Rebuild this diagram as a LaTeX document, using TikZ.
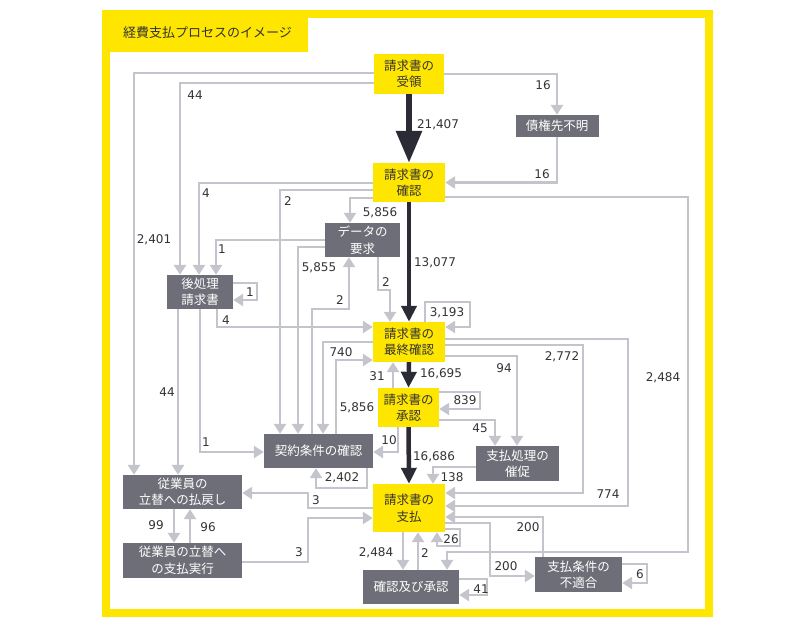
\documentclass[tikz,border=0pt]{standalone}
\usepackage{fontspec}
\setmainfont{DejaVu Sans}
\newfontfamily\jpfont{Noto Sans CJK JP}
\usetikzlibrary{arrows.meta}
\definecolor{ylw}{RGB}{255,230,0}
\definecolor{gfill}{RGB}{110,110,120}
\definecolor{gline}{RGB}{196,196,204}
\definecolor{dline}{RGB}{43,43,53}
\definecolor{txt}{RGB}{51,51,51}
\begin{document}
\begin{tikzpicture}[x=1pt,y=-1pt,
  ybox/.style={fill=ylw,text=txt,inner sep=0pt,align=center,font=\jpfont\fontsize{12.5}{16.5}\selectfont},
  gbox/.style={fill=gfill,text=white,inner sep=0pt,align=center,font=\jpfont\fontsize{12.5}{16.5}\selectfont},
  ga/.style={draw=gline,line width=2.5pt,-{Triangle[width=12pt,length=10pt]}},
  da/.style={draw=dline,line width=4.5pt,-{Triangle[width=15pt,length=16pt]}},
  dab/.style={draw=dline,line width=6pt,-{Triangle[width=25pt,length=32pt]}},
  lbl/.style={text=txt,font=\fontsize{12}{14}\selectfont,inner sep=0pt}]
\useasboundingbox (0,0) rectangle (810,627);
% frame and title
\draw[ylw,line width=8pt] (106,14) rectangle (709,613);
\fill[ylw] (102,10) rectangle (308,52);
\node[anchor=west,text=txt,inner sep=0pt,font=\jpfont\fontsize{13}{15}\selectfont] (title) at (123,33) {経費支払プロセスのイメージ};
% nodes
\node[ybox,minimum width=70pt,minimum height=40pt] (A) at (409,74) {請求書の\\受領};
\node[ybox,minimum width=72pt,minimum height=39pt] (B) at (409,182.5) {請求書の\\確認};
\node[gbox,minimum width=83pt,minimum height=22pt] (C) at (557,126) {債権先不明};
\node[gbox,minimum width=75pt,minimum height=34pt] (D) at (362.5,240) {データの\\要求};
\node[gbox,minimum width=66pt,minimum height=34pt] (E) at (200,292) {後処理\\請求書};
\node[ybox,minimum width=72pt,minimum height=40pt] (F) at (409,342) {請求書の\\最終確認};
\node[ybox,minimum width=61pt,minimum height=39pt] (G) at (408.5,407.5) {請求書の\\承認};
\node[gbox,minimum width=109pt,minimum height=34pt] (H) at (318.5,451) {契約条件の確認};
\node[gbox,minimum width=83pt,minimum height=35pt] (I) at (517.5,463.5) {支払処理の\\催促};
\node[ybox,minimum width=72pt,minimum height=48pt] (J) at (409,508) {請求書の\\支払};
\node[gbox,minimum width=119pt,minimum height=34pt] (K) at (182.5,492) {従業員の\\立替への払戻し};
\node[gbox,minimum width=119pt,minimum height=35pt] (L) at (182.5,560.5) {従業員の立替へ\\の支払実行};
\node[gbox,minimum width=96pt,minimum height=34pt] (M) at (411,587) {確認及び承認};
\node[gbox,minimum width=87pt,minimum height=35pt] (N) at (578.5,574.5) {支払条件の\\不適合};
% light connectors
\draw[ga] (A.east) -| (C.north);
\draw[ga] (C.south) |- (B.east);
\draw[ga] (A.west |- 0,73) -| (K.north -| 134,0);
\draw[ga] (A.west |- 0,83) -| (E.north -| 180,0);
\draw[ga] (B.west |- 0,183) -| (E.north -| 199,0);
\draw[ga] (B.west |- 0,190) -| (H.north -| 280,0);
\draw[ga] (B.west |- 0,198) -| (D.north -| 350,0);
\draw[ga] (D.west |- 0,240) -| (E.north -| 216,0);
\draw[ga] (D.west |- 0,247) -| (H.north -| 298,0);
\draw[ga] (H.north -| 312,0) |- (349,309) -- (D.south -| 349,0);
\draw[ga] (D.south -| 378,0) |- (390,290) -- (F.north -| 390,0);
\draw[ga] (F.north -| 425,0) |- (470,302) |- (F.east |- 0,327);
\draw[ga] (E.east |- 0,283) -| (257,300) -- (E.east |- 0,300);
\draw[ga] (E.south -| 217,0) |- (F.west |- 0,327);
\draw[ga] (H.north -| 336,0) |- (F.west |- 0,360);
\draw[ga] (F.west |- 0,342) -| (H.north -| 323,0);
\draw[ga] (G.north -| 393,0) -- (F.south -| 393,0);
\draw[ga] (G.east |- 0,392) -| (480,409) -- (G.east |- 0,409);
\draw[ga] (G.east |- 0,420) -| (I.north -| 495,0);
\draw[ga] (F.east |- 0,356) -| (I.north -| 517,0);
\draw[ga] (F.east |- 0,345) -| (583,493) -- (J.east |- 0,493);
\draw[ga] (F.east |- 0,339) -| (628,506) -- (J.east |- 0,506);
\draw[ga] (B.east |- 0,197) -| (688,552) -| (M.north -| 447,0);
\draw[ga] (I.west |- 0,467) -| (J.north -| 433,0);
\draw[ga] (H.south -| 367,0) |- (316,488) -- (H.south -| 316,0);
\draw[ga] (G.south -| 398,0) |- (H.east |- 0,452);
\draw[ga] (E.south -| 200,0) |- (H.west |- 0,452);
\draw[ga] (E.south -| 178,0) -- (K.north -| 178,0);
\draw[ga] (J.west |- 0,508) -| (308,493) -- (K.east |- 0,493);
\draw[ga] (L.east |- 0,562) -| (308,518) -- (J.west |- 0,518);
\draw[ga] (K.south -| 174,0) -- (L.north -| 174,0);
\draw[ga] (L.north -| 190,0) -- (K.south -| 190,0);
\draw[ga] (J.south -| 403,0) -- (M.north -| 403,0);
\draw[ga] (M.north -| 418,0) -- (J.south -| 418,0);
\draw[ga] (J.east |- 0,529) -| (460,546) -| (J.south -| 437,0);
\draw[ga] (J.east |- 0,523) -| (490,576) -- (N.west |- 0,576);
\draw[ga] (N.north -| 543,0) |- (J.east |- 0,517);
\draw[ga] (N.east |- 0,564) -| (647,583) -- (N.east |- 0,583);
\draw[ga] (M.east |- 0,579) -| (487,595) -- (M.east |- 0,595);
% dark connectors
\draw[dab] (A.south) -- (B.north);
\draw[da] (B.south) -- (F.north);
\draw[da] (F.south) -- (G.north);
\draw[da] (G.south) -- (J.north);
% labels
\node[lbl] (l1) at (438,125) {21,407};
\node[lbl] (l2) at (543,85) {16};
\node[lbl] (l3) at (542,174) {16};
\node[lbl] (l4) at (154,240) {2,401};
\node[lbl] (l5) at (195,95) {44};
\node[lbl] (l6) at (206,193) {4};
\node[lbl] (l7) at (288,201) {2};
\node[lbl] (l8) at (380,213) {5,856};
\node[lbl] (l9) at (222,249) {1};
\node[lbl] (l10) at (319,268) {5,855};
\node[lbl] (l11) at (340,300) {2};
\node[lbl] (l12) at (386,282) {2};
\node[lbl] (l13) at (435,263) {13,077};
\node[lbl] (l14) at (447,313) {3,193};
\node[lbl] (l15) at (250,292) {1};
\node[lbl] (l16) at (226,320) {4};
\node[lbl] (l17) at (341,352) {740};
\node[lbl] (l18) at (357,408) {5,856};
\node[lbl] (l19) at (377,376) {31};
\node[lbl] (l20) at (441,374) {16,695};
\node[lbl] (l21) at (465,400) {839};
\node[lbl] (l22) at (480,428) {45};
\node[lbl] (l23) at (504,368) {94};
\node[lbl] (l24) at (562,357) {2,772};
\node[lbl] (l25) at (608,494) {774};
\node[lbl] (l26) at (663,378) {2,484};
\node[lbl] (l27) at (434,457) {16,686};
\node[lbl] (l28) at (452,477) {138};
\node[lbl] (l29) at (342,478) {2,402};
\node[lbl] (l30) at (389,440) {10};
\node[lbl] (l31) at (206,442) {1};
\node[lbl] (l32) at (167,392) {44};
\node[lbl] (l33) at (316,500) {3};
\node[lbl] (l34) at (299,552) {3};
\node[lbl] (l35) at (156,525) {99};
\node[lbl] (l36) at (208,527) {96};
\node[lbl] (l37) at (376,553) {2,484};
\node[lbl] (l38) at (425,553) {2};
\node[lbl] (l39) at (451,539) {26};
\node[lbl] (l40) at (506,566) {200};
\node[lbl] (l41) at (528,527) {200};
\node[lbl] (l42) at (640,574) {6};
\node[lbl] (l43) at (481,589) {41};
\end{tikzpicture}
\end{document}
